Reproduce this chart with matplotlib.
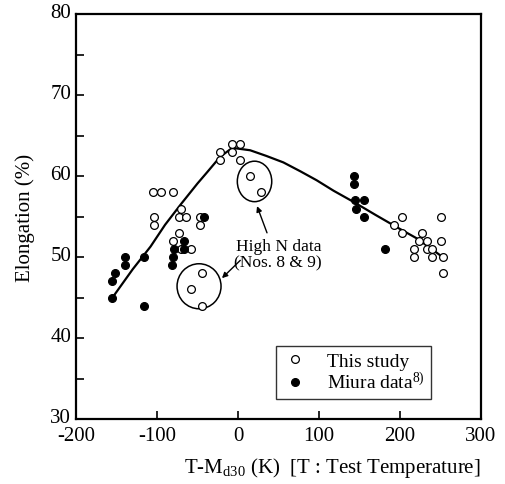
import matplotlib
matplotlib.use("Agg")
import matplotlib.pyplot as plt
import matplotlib.transforms as mtransforms
from matplotlib.patches import Ellipse
from matplotlib.ticker import MultipleLocator

plt.rcParams['font.family'] = ['Liberation Serif', 'DejaVu Serif']
plt.rcParams['mathtext.fontset'] = 'custom'
plt.rcParams['mathtext.rm'] = 'Liberation Serif'
plt.rcParams['mathtext.it'] = 'Liberation Serif:italic'
plt.rcParams['axes.unicode_minus'] = False

# This study (open circles)
study_x = [-22, -22, -7, 3, -7, 3, 15, 29,
           -105, -95, -80, -104, -104, -70, -73, -64, -47, -47, -73, -80, -70, -58,
           -44, -58, -44,
           202, 193, 202, 250, 227, 224, 233, 250, 217, 233, 240, 217, 240, 253, 253]
study_y = [63, 62, 64, 64, 63, 62, 60, 58,
           58, 58, 58, 55, 54, 56, 55, 55, 55, 54, 53, 52, 51, 51,
           48, 46, 44,
           55, 54, 53, 55, 53, 52, 52, 52, 51, 51, 51, 50, 50, 50, 48]

# Miura data (filled circles)
miura_x = [-42, -67, -67, -79, -80, -81, -116, -116, -140, -140, -152, -155, -155,
           143, 143, 145, 156, 146, 156, 182]
miura_y = [55, 52, 51, 51, 50, 49, 50, 44, 50, 49, 48, 47, 45,
           60, 59, 57, 57, 56, 55, 51]

# Trend line
trend_x = [-155, -130, -108, -90, -70, -50, -38, -22, -7, 15, 35, 56, 77, 97,
           118, 143, 170, 196, 221, 250]
trend_y = [45, 48.5, 51.3, 54.0, 56.6, 59.1, 60.5, 62.4, 63.5, 63.2, 62.5, 61.7,
           60.6, 59.5, 58.2, 56.8, 55.2, 53.7, 52.3, 50.2]

fig = plt.figure(figsize=(5.05, 4.85), dpi=100)
ax = fig.add_axes([0.1505, 0.134, 0.802, 0.8345])

ax.plot(trend_x, trend_y, color='black', lw=1.6, zorder=2)
ax.plot(study_x, study_y, linestyle='none', marker='o', markersize=5.6,
        markerfacecolor='white', markeredgecolor='black', markeredgewidth=0.9,
        label='This study', zorder=3)
ax.plot(miura_x, miura_y, linestyle='none', marker='o', markersize=5.6,
        markerfacecolor='black', markeredgecolor='black', markeredgewidth=0.9,
        label=r'Miura data$^{\mathregular{8)}}$', zorder=4)

# High N data groups
ax.add_patch(Ellipse((20.4, 59.35), 42.5, 5.0, fill=False, ec='black', lw=1.1, zorder=2))
ax.add_patch(Ellipse((-48.1, 46.4), 54.3, 5.56, fill=False, ec='black', lw=1.1, zorder=2))

ax.text(49.7, 50.4, 'High N data\n(Nos. 8 & 9)', ha='center', va='center',
        fontsize=12.5, linespacing=1.05)
arrow = dict(arrowstyle='-|>', color='black', lw=1.0, mutation_scale=8,
             shrinkA=0, shrinkB=0)
ax.annotate('', xy=(23.5, 56.3), xytext=(35.8, 53.0), arrowprops=arrow)
ax.annotate('', xy=(-19.8, 47.4), xytext=(2.8, 49.6), arrowprops=arrow)

ax.set_xlim(-200, 300)
ax.set_ylim(30, 80)
ax.xaxis.set_major_locator(MultipleLocator(100))
ax.yaxis.set_major_locator(MultipleLocator(10))
ax.yaxis.set_minor_locator(MultipleLocator(5))
ax.tick_params(axis='both', which='both', direction='in', top=False, right=False,
               labelsize=15, width=1.2)
ax.tick_params(axis='both', which='major', length=6)
ax.tick_params(axis='y', which='minor', length=6)
ax.tick_params(axis='x', which='major', pad=5)
for s in ax.spines.values():
    s.set_linewidth(1.6)

# lift the y tick labels slightly so the lowest one clears the x labels
lift = mtransforms.ScaledTranslation(0, 3 / 72, fig.dpi_scale_trans)
for lab in ax.get_yticklabels():
    lab.set_transform(lab.get_transform() + lift)

ax.set_xlabel(r'T-M$_{\mathregular{d30}}$ (K)  [T : Test Temperature]', fontsize=15,
              labelpad=7, loc='right')
ax.set_ylabel('Elongation (%)', fontsize=15, labelpad=11)

leg = ax.legend(loc='lower left', bbox_to_anchor=(0.494, 0.049), fontsize=14,
                frameon=True, fancybox=False, edgecolor='black', handlelength=1.2,
                handletextpad=1.05, borderpad=0.35, labelspacing=0.05,
                borderaxespad=0)
leg.get_frame().set_linewidth(1.0)

fig.savefig('out.png', dpi=100)
